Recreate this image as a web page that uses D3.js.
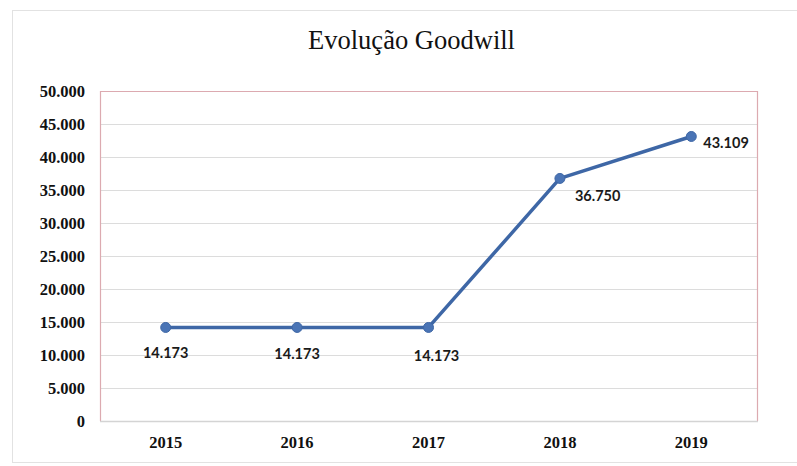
<!DOCTYPE html>
<html>
<head>
<meta charset="utf-8">
<script src="https://cdn.jsdelivr.net/npm/d3@7"></script>
<style>
  html, body { margin: 0; padding: 0; background: #fff; }
  svg { display: block; }
</style>
</head>
<body>
<svg id="chart" width="797" height="466"></svg>
<script>
// Goodwill by year
const years = ["2015", "2016", "2017", "2018", "2019"];
const goodwill = [14173, 14173, 14173, 36750, 43109];
const valueLabels = ["14.173", "14.173", "14.173", "36.750", "43.109"];
const yTicks = [0, 5000, 10000, 15000, 20000, 25000, 30000, 35000, 40000, 45000, 50000];
const yTickLabels = ["0", "5.000", "10.000", "15.000", "20.000", "25.000", "30.000", "35.000", "40.000", "45.000", "50.000"];

const svg = d3.select("#chart");
const plot = { left: 100, right: 757, top: 91, bottom: 421 };
const serif = "'Liberation Serif', 'Times New Roman', serif";

// outer chart frame
svg.append("rect")
  .attr("x", 12.5).attr("y", 10.5)
  .attr("width", 800).attr("height", 452)
  .attr("fill", "#fff").attr("stroke", "#e2e2e2").attr("stroke-width", 1);

svg.append("text")
  .attr("x", 308).attr("y", 49)
  .attr("textLength", 207).attr("lengthAdjust", "spacingAndGlyphs")
  .style("font-family", serif)
  .style("font-size", "28px")
  .attr("fill", "#111")
  .text("Evolução Goodwill");

const x = d3.scaleBand().domain(years).range([plot.left, plot.right]);
const y = d3.scaleLinear().domain([0, 50000]).range([plot.bottom, plot.top]);

// gridlines
svg.append("g")
  .selectAll("line")
  .data(yTicks.filter(d => d > 0 && d < 50000))
  .join("line")
  .attr("x1", plot.left).attr("x2", plot.right)
  .attr("y1", d => Math.round(y(d)) + 0.5).attr("y2", d => Math.round(y(d)) + 0.5)
  .attr("stroke", "#dcdcdc").attr("stroke-width", 1.2);

// plot-area border: pink on top and sides, grey baseline
svg.append("path")
  .attr("d", `M${plot.left + 0.5},${plot.bottom}V${plot.top + 0.5}H${plot.right + 0.5}V${plot.bottom}`)
  .attr("fill", "none").attr("stroke", "#dcaab0").attr("stroke-width", 1.2);
svg.append("line")
  .attr("x1", plot.left).attr("x2", plot.right + 1)
  .attr("y1", plot.bottom + 0.5).attr("y2", plot.bottom + 0.5)
  .attr("stroke", "#d4d4d4").attr("stroke-width", 1.5);

// y axis
const yAxis = d3.axisLeft(y)
  .tickValues(yTicks)
  .tickFormat((d, i) => yTickLabels[i])
  .tickSize(0).tickPadding(15);
const gy = svg.append("g").attr("transform", `translate(${plot.left},0)`).call(yAxis);
gy.select(".domain").remove();
gy.selectAll("text")
  .style("font-family", serif)
  .style("font-size", "16.5px").style("font-weight", "bold")
  .attr("fill", "#111");

// x axis
const xAxis = d3.axisBottom(x).tickSize(0).tickPadding(15);
const gx = svg.append("g").attr("transform", `translate(0,${plot.bottom})`).call(xAxis);
gx.select(".domain").remove();
gx.selectAll("text")
  .style("font-family", serif)
  .style("font-size", "16.5px").style("font-weight", "bold")
  .attr("fill", "#111");

const cx = d => x(d) + x.bandwidth() / 2;
const points = years.map((yr, i) => ({ yr, v: goodwill[i], label: valueLabels[i] }));

// series line
svg.append("path")
  .datum(points)
  .attr("fill", "none")
  .attr("stroke", "#3e67a6")
  .attr("stroke-width", 3.5)
  .attr("stroke-linejoin", "round")
  .attr("d", d3.line().x(d => cx(d.yr)).y(d => y(d.v)));

svg.append("g")
  .selectAll("circle")
  .data(points)
  .join("circle")
  .attr("cx", d => cx(d.yr)).attr("cy", d => y(d.v))
  .attr("r", 5)
  .attr("fill", "#4a74b5").attr("stroke", "#3e67a6").attr("stroke-width", 1);

// data labels
const labelOffsets = [
  { dx: 0, dy: 31, anchor: "middle" },
  { dx: 0, dy: 32, anchor: "middle" },
  { dx: 8, dy: 34, anchor: "middle" },
  { dx: 15, dy: 23, anchor: "start" },
  { dx: 12, dy: 12, anchor: "start" }
];
svg.append("g")
  .selectAll("text")
  .data(points)
  .join("text")
  .attr("x", (d, i) => cx(d.yr) + labelOffsets[i].dx)
  .attr("y", (d, i) => y(d.v) + labelOffsets[i].dy)
  .attr("text-anchor", (d, i) => labelOffsets[i].anchor)
  .style("font-family", "Lato, 'Open Sans', sans-serif")
  .style("font-size", "14.5px").style("font-weight", "bold")
  .attr("fill", "#1a1a1a")
  .text(d => d.label);
</script>
</body>
</html>
